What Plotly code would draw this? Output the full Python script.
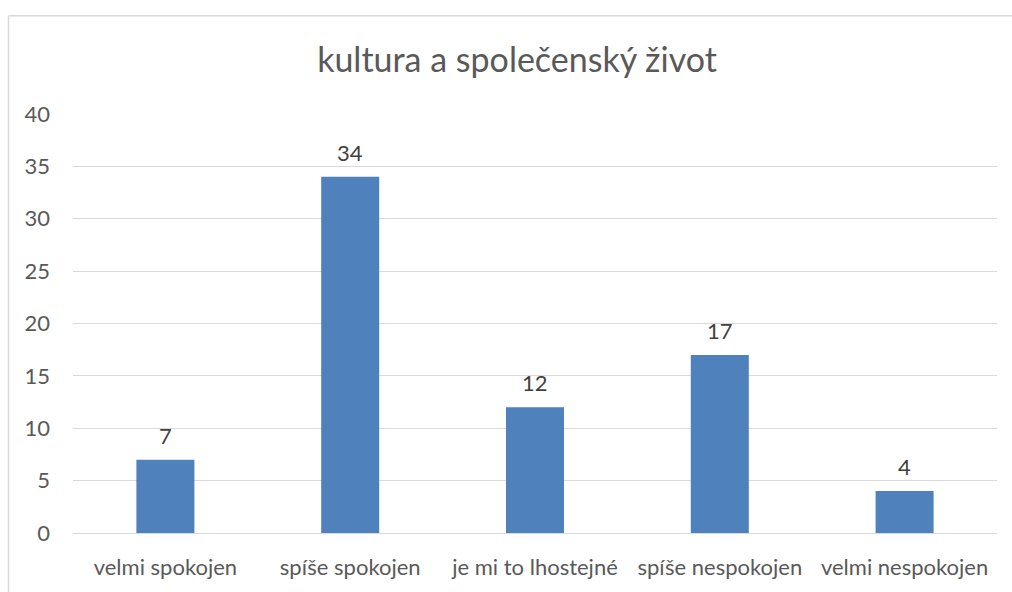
import plotly.graph_objects as go

categories = ["velmi spokojen", "spíše spokojen", "je mi to lhostejné", "spíše nespokojen", "velmi nespokojen"]
values = [7, 34, 12, 17, 4]
y_ticks = [0, 5, 10, 15, 20, 25, 30, 35, 40]
title_text = "kultura a společenský život"

FONT = "Lato, Carlito, Calibri, sans-serif"
TXT = "#595959"

fig = go.Figure(go.Bar(
    x=categories, y=values,
    marker=dict(color="#4F81BD", line=dict(width=0)),
    cliponaxis=False,
))

for c, v in zip(categories, values):
    fig.add_annotation(x=c, y=v, text=str(v), showarrow=False, yanchor="bottom", yshift=9,
                       font=dict(family=FONT, size=22, color="#404040"))

W, H = 1012, 592
L, R, T, B = 73, 15, 114, 52
pw, ph = W - L - R, H - T - B

bx0 = (8.5 - L) / pw
by1 = (H - B - 14) / ph
border = dict(color="#D9D9D9", width=1.5)

fig.update_layout(
    width=W, height=H,
    margin=dict(l=L, r=R, t=T, b=B),
    paper_bgcolor="white", plot_bgcolor="white",
    bargap=0.686,
    showlegend=False,
    title=dict(text=title_text, x=517 / W, xanchor="center", y=1 - 60 / H, yanchor="middle",
               font=dict(family=FONT, size=34, color=TXT)),
    font=dict(family=FONT, size=22, color=TXT),
    xaxis=dict(showgrid=False, showline=False, ticks="", ticklabelstandoff=19,
               tickfont=dict(size=22, color=TXT)),
    yaxis=dict(range=[0, 40], tickvals=y_ticks, showgrid=True, gridcolor="#D9D9D9", gridwidth=1,
               zeroline=True, zerolinecolor="#D9D9D9", zerolinewidth=1,
               showline=False, ticks="", ticklabelstandoff=22, tickfont=dict(size=22, color=TXT)),
    shapes=[
        dict(type="line", xref="paper", yref="paper", x0=bx0, x1=1.1, y0=by1, y1=by1, line=border, layer="below"),
        dict(type="line", xref="paper", yref="paper", x0=bx0, x1=bx0, y0=by1, y1=-0.3, line=border, layer="below"),
    ],
)

fig.write_html(
    "out.html",
    config={"displayModeBar": False},
    post_script="document.body.style.margin='0';document.body.style.overflow='hidden';",
)
